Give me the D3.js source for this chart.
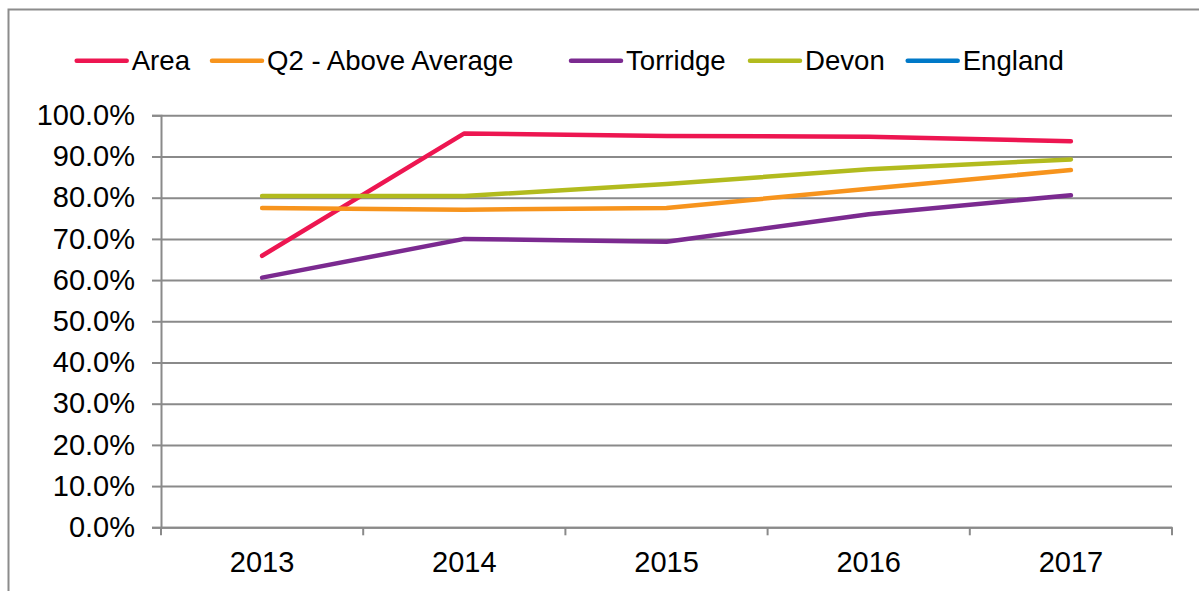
<!DOCTYPE html>
<html>
<head>
<meta charset="utf-8">
<script src="https://cdn.jsdelivr.net/npm/d3@7"></script>
<style>
  body { margin: 0; background: #fff; }
  svg { display: block; font-family: "Liberation Sans", Arial, sans-serif; }
</style>
</head>
<body>
<div id="chart"></div>
<script>
// Chart data
const years = ["2013", "2014", "2015", "2016", "2017"];
const seriesNames = ["Area", "Q2 - Above Average", "Torridge", "Devon", "England"];
const area = [0.659, 0.956, 0.950, 0.948, 0.937];
const q2 = [0.775, 0.771, 0.775, 0.822, 0.867];
const torridge = [0.606, 0.700, 0.693, 0.760, 0.806];
const devon = [0.804, 0.804, 0.833, 0.869, 0.893];
const england = [];
const yTicks = [0, 0.1, 0.2, 0.3, 0.4, 0.5, 0.6, 0.7, 0.8, 0.9, 1.0];

const colors = ["#ED1651", "#F7941D", "#7B2A90", "#B2BB1E", "#0079C8"];
const allValues = [area, q2, torridge, devon, england];

const width = 1199;
const height = 591;
const plotLeft = 161, plotRight = 1172, plotTop = 115.3, plotBottom = 527.3;

let svg = d3.select("#chart").append("svg")
            .attr("width", width)
            .attr("height", height)

// outer frame (runs off the right and bottom edges)
svg.append("rect")
   .attr("x", 8.5).attr("y", 9.5)
   .attr("width", width + 20).attr("height", height + 20)
   .style("fill", "none")
   .style("stroke", "#8c8c8c")
   .style("stroke-width", 2)

let x = d3.scaleBand().domain(years).range([plotLeft, plotRight])
let y = d3.scaleLinear().domain([0, 1]).range([plotBottom, plotTop])

// horizontal gridlines
let grid = svg.append("g")
              .attr("transform", "translate(" + plotLeft + ",0)")
              .call(d3.axisLeft(y).tickValues(yTicks).tickSize(-(plotRight - plotLeft)).tickFormat(""))
grid.select(".domain").remove()
grid.selectAll("line").style("stroke", "#8a8a8a").style("stroke-width", 2)

// y axis with labels
let yAxis = svg.append("g")
               .attr("transform", "translate(" + plotLeft + ",0)")
               .call(d3.axisLeft(y).tickValues(yTicks).tickSize(9).tickPadding(17)
                       .tickFormat(d3.format(".1%")))
yAxis.select(".domain").style("stroke", "#8a8a8a").style("stroke-width", 2)
yAxis.selectAll("line").style("stroke", "#8a8a8a").style("stroke-width", 2)
yAxis.selectAll("text")
     .style("font-size", "29px")
     .style("fill", "#000")
     .style("font-family", "'Liberation Sans', Arial, sans-serif")

// x axis: labels centred in bands, tick marks on band edges
let xAxis = svg.append("g")
               .attr("transform", "translate(0," + plotBottom + ")")
               .call(d3.axisBottom(x).tickSize(0).tickPadding(24))
xAxis.select(".domain").style("stroke", "#8a8a8a").style("stroke-width", 2)
xAxis.selectAll("text")
     .style("font-size", "29px")
     .style("fill", "#000")
     .style("font-family", "'Liberation Sans', Arial, sans-serif")

let edges = years.map(function(d) { return x(d) }).concat([x(years[years.length - 1]) + x.bandwidth()])
xAxis.selectAll(".edge")
     .data(edges)
     .enter()
     .append("line")
     .attr("x1", function(d) { return d })
     .attr("x2", function(d) { return d })
     .attr("y1", 0)
     .attr("y2", 8)
     .style("stroke", "#8a8a8a")
     .style("stroke-width", 2)

// series lines
let line = d3.line()
             .x(function(d, i) { return x(years[i]) + x.bandwidth() / 2 })
             .y(function(d) { return y(d) })

svg.selectAll(".series")
   .data(allValues)
   .enter()
   .append("path")
   .attr("d", function(d) { return d.length ? line(d) : null })
   .style("fill", "none")
   .style("stroke", function(d, i) { return colors[i] })
   .style("stroke-width", 4.5)
   .style("stroke-linecap", "round")
   .style("stroke-linejoin", "round")

// legend
const legendX = [76.7, 212, 571, 750, 907.7];
const legendY = 60.7;

let legend = svg.selectAll(".legend")
                .data(seriesNames)
                .enter()
                .append("g")
                .attr("transform", function(d, i) { return "translate(" + legendX[i] + "," + legendY + ")" })

legend.append("line")
      .attr("x1", 0).attr("x2", 50)
      .attr("y1", 0).attr("y2", 0)
      .style("stroke", function(d, i) { return colors[i] })
      .style("stroke-width", 4.5)
      .style("stroke-linecap", "round")

legend.append("text")
      .attr("x", 55)
      .attr("dy", "0.35em")
      .style("font-size", "27.6px")
      .style("fill", "#000")
      .text(function(d) { return d })
</script>
</body>
</html>
